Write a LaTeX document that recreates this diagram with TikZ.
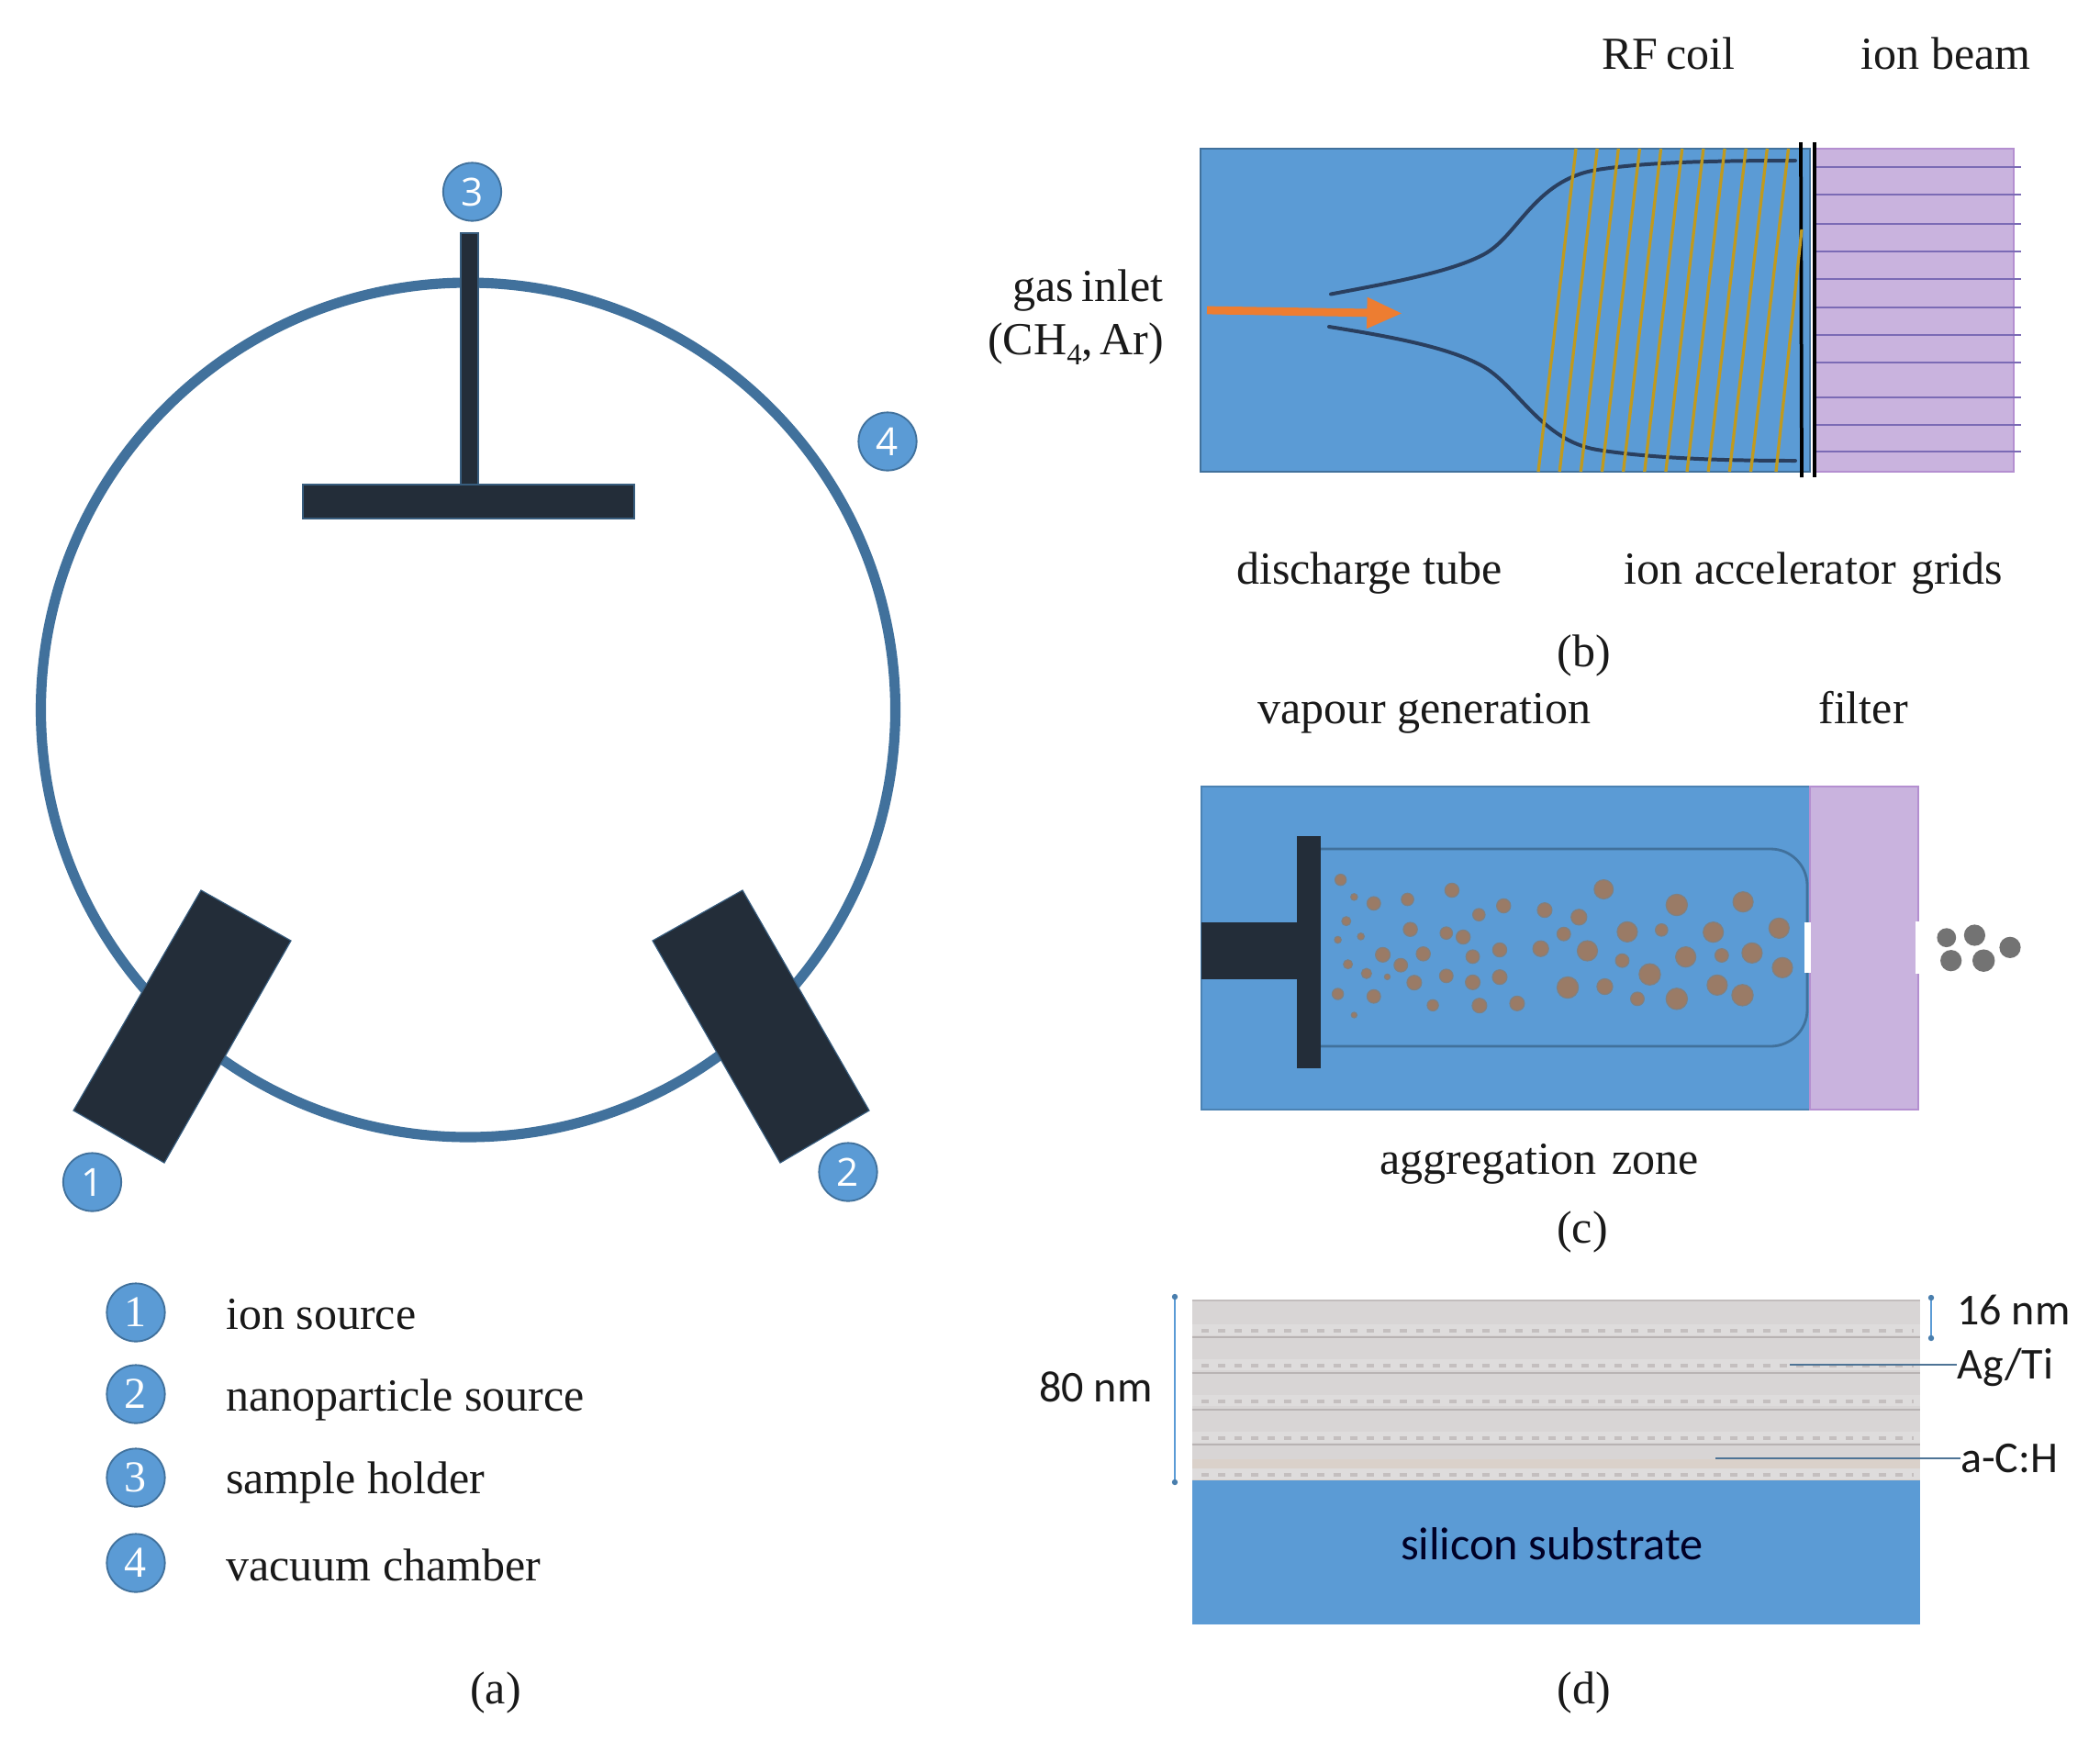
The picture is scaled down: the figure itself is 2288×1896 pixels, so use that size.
\documentclass[tikz,border=0pt]{standalone}
\usepackage{fontspec}
\setmainfont{Liberation Serif}
\newfontfamily\calibrif{Carlito}
\newfontfamily\badgef{Open Sans}
\usetikzlibrary{arrows.meta}
\definecolor{msblue}{HTML}{5B9BD5}
\definecolor{msedge}{HTML}{41719C}
\definecolor{darkbar}{HTML}{232D39}
\definecolor{lilac}{HTML}{C9B3DE}
\definecolor{lilacedge}{HTML}{B48FD0}
\definecolor{gridline}{HTML}{7B6BB5}
\definecolor{coil}{HTML}{BF9A20}
\definecolor{plasma}{HTML}{2A3F5F}
\definecolor{arrowor}{HTML}{ED7D31}
\definecolor{particle}{HTML}{9A7B66}
\definecolor{particleedge}{HTML}{808080}
\definecolor{layer}{HTML}{D8D5D5}
\definecolor{layerband}{HTML}{DEDCDC}
\definecolor{layerline}{HTML}{B8B3B3}
\definecolor{layerdot}{HTML}{C4BFBF}
\tikzset{
 serifl/.style={inner sep=0pt,anchor=base,font=\fontsize{42.7}{50}\selectfont,text=black!90},
 caliL/.style={inner sep=0pt,anchor=base west,font=\calibrif\fontsize{41}{50}\selectfont,text=black!90},
 badge/.style={circle,draw=msedge,line width=1.6pt,fill=msblue,minimum size=54pt,inner sep=0pt,text=white,font=\badgef\fontsize{36}{40}\selectfont},
 lbadge/.style={circle,draw=msedge,line width=1.6pt,fill=msblue,minimum size=54pt,inner sep=0pt,text=white,font=\fontsize{41}{46}\selectfont},
 darkshape/.style={fill=darkbar,draw=msedge!70!darkbar,line width=1pt},
 gridl/.style={gridline,line width=2.2pt},
 coilline/.style={coil,line width=2.8pt},
 plasmaline/.style={plasma,line width=3.4pt,line cap=round},
 leader/.style={msedge!80!gray,line width=1.8pt},
 dimline/.style={msblue,line width=1.2pt},
 dots/.style={layerdot,line width=4pt,dash pattern=on 6.8pt off 8.56pt},
}
\begin{document}
\begin{tikzpicture}[x=0.3mm,y=-0.3mm]
\useasboundingbox (0,0) rectangle (2288,1896);
% ---------- (a)
\draw[msedge,line width=9.5pt] (510,773.5) circle [radius=465.5];
\path[darkshape] (502,254) rectangle (521,528);
\path[darkshape] (330,528) rectangle (691,565);
\path[darkshape] (219,970) -- (317,1025) -- (179,1267) -- (80,1210) -- cycle;
\path[darkshape] (809,970) -- (947,1210) -- (850,1267) -- (711,1025) -- cycle;
\node[badge] (b3) at (514.5,209) {3};
\node[badge] (b4) at (967,481) {4};
\node[badge] (b1) at (100.5,1288) {1};
\node[badge] (b2) at (924,1277) {2};
\node[lbadge] (l1) at (148,1430) {1};
\node[lbadge] (l2) at (148,1519) {2};
\node[lbadge] (l3) at (148,1610) {3};
\node[lbadge] (l4) at (148,1703) {4};
\node[serifl,anchor=base west] (t1) at (246,1448) {ion source};
\node[serifl,anchor=base west] (t2) at (246,1537) {nanoparticle source};
\node[serifl,anchor=base west] (t3) at (246,1627) {sample holder};
\node[serifl,anchor=base west] (t4) at (246,1722) {vacuum chamber};
\node[serifl] (capa) at (540,1856) {(a)};
% ---------- (b)
\draw[fill=msblue,draw=msedge,line width=1.6pt] (1308,162) rectangle (1972,514);
\draw[fill=lilac,draw=lilacedge,line width=1.2pt] (1976,162) rectangle (2194,514);
\foreach \y in {182,212,244,274,304,335,365,395,433,463,492}
  \draw[gridl] (1976,\y) -- (2202,\y);
\draw[plasmaline] (1450,320.5) .. controls (1510,309) and (1580,297) .. (1617,277) .. controls (1654,257) and (1672,196) .. (1740,185) .. controls (1790,177) and (1860,175) .. (1956,175);
\draw[plasmaline] (1448,356) .. controls (1510,366) and (1580,378) .. (1617,400) .. controls (1654,422) and (1680,480) .. (1740,490) .. controls (1790,498) and (1860,502) .. (1956,502);
\foreach \i in {0,...,10}
  \draw[coilline] ({1717+23.15*\i},162) -- ({1676+23.15*\i},514);
\draw[black,line width=3.2pt] (1962,155) -- (1963,520);
\draw[black,line width=3.2pt] (1977,155) -- (1977,520);
\draw[coilline] (1963,250) -- (1935,514);
\coordinate (gasA) at (1315,338);
\coordinate (gasB) at (1528,341.5);
\draw[arrowor,line width=7.5pt,-{Triangle[length=33pt,width=27pt]}] (gasA) -- (gasB);
\node[serifl] (rf) at (1818,75) {RF\hspace{0.18em}coil};
\node[serifl] (ib) at (2120,75) {ion beam};
\node[serifl,anchor=base east] (gas1) at (1268,328) {gas\hspace{0.18em}inlet};
\node[serifl,anchor=base east] (gas2) at (1268,386) {(CH\raisebox{-0.22em}{\fontsize{28}{30}\selectfont 4},\hspace{0.14em}Ar)};
\node[serifl] (dt) at (1492,636) {discharge tube};
\node[serifl] (iag) at (1976,636) {ion accelerator\hspace{0.08em} grids};
\node[serifl] (capb) at (1726,726) {(b)};
% ---------- (c)
\draw[fill=msblue,draw=msedge!60!msblue,line width=1pt] (1309,857) rectangle (1972,1209);
\draw[fill=lilac,draw=lilacedge,line width=1.8pt] (1972,857) rectangle (2090,1209);
\draw[msedge,line width=2.4pt,rounded corners=34pt] (1439,925) -- (1969,925) -- (1969,1140) -- (1439,1140);
\fill[white] (1966,1005) rectangle (1973,1060);
\fill[white] (2087,1004) rectangle (2092,1061);
\fill[darkbar] (1309,1005) rectangle (1413,1067);
\fill[darkbar] (1413,911) rectangle (1439,1164);
\foreach \x/\y/\w in {295/356/20,319/412/12,354/433/24,414/420/22,493/390/25,541/470/22,585/441/25,658/455/26,719/478/28,763/387/34,893/438/38,1011/428/36,305/491/16,419/518/25,483/530/22,513/543/25,692/533/24,805/526/36,866/520/22,958/527/36,1075/514/36,290/552/12,331/541/12,370/601/26,442/598/25,530/607/24,578/585/25,651/581/28,734/588/36,796/620/24,909/608/36,973/603/24,1027/595/36,1081/643/36,308/632/16,341/662/18,402/635/24,378/673/10,426/692/26,483/670/24,530/691/26,578/674/26,699/708/38,765/705/28,845/665/38,965/700/36,290/729/20,354/737/24,459/766/20,542/767/26,609/760/26,823/745/24,893/745/38,1010/733/38,319/798/10}
  \fill[particle,draw=particleedge,line width=1pt] ({1280+\x/1.633},{840+\y/3}) circle [radius={\w/3.27}];
\foreach \x/\y/\w in {1373/545/34,1423/537/38,1486/577/38,1381/620/38,1439/620/40}
  \fill[black!55] ({1280+\x/1.633},{840+\y/3}) circle [radius={\w/3.27}];
\node[serifl] (vg) at (1552,788) {vapour generation};
\node[serifl] (fl) at (2030,788) {filter};
\node[serifl] (az) at (1677,1279) {aggregation\hspace{0.08em} zone};
\node[serifl] (capc) at (1724,1354) {(c)};
% ---------- (d)
\fill[layer] (1298.5,1416) rectangle (2092,1613);
\fill[orange!5!layer] (1298.5,1590) rectangle (2092,1613);
\draw[layerline!70!layer,line width=1.6pt] (1298.5,1417) -- (2092,1417);
\foreach \y in {1450,1488,1527,1567,1607}
  \fill[layerband] (1298.5,\y-7) rectangle (2092,\y+5);
\foreach \y in {1457,1496,1536,1574}
  \draw[layerline,line width=2.4pt] (1298.5,\y) -- (2092,\y);
\foreach \y in {1450,1488,1527,1567,1607}
  \draw[dots] (1309,\y) -- (2085,\y);
\fill[msblue] (1298.5,1613) rectangle (2092,1770);
\node[inner sep=0pt,font=\calibrif\fontsize{43}{50}\selectfont,text=black!85!blue] (si) at (1691,1682) {silicon substrate};
\node[caliL] (d80) at (1132,1527) {80 nm};
\node[caliL] (d16) at (2132,1443) {16 nm};
\node[caliL] (ag) at (2132,1502) {Ag/Ti};
\node[caliL] (ac) at (2136,1604) {a-C:H};
\coordinate (agS) at (1950,1487);
\coordinate (acS) at (1869,1589);
\draw[leader] (agS) -- (agS -| ag.west);
\draw[leader] (acS) -- (acS -| ac.west);
\coordinate (m80a) at (1280,1413);
\coordinate (m80b) at (1280,1615);
\coordinate (m16a) at (2104,1414);
\coordinate (m16b) at (2104,1458);
\draw[dimline] (m80a) -- (m80b);
\draw[dimline] (m16a) -- (m16b);
\foreach \p in {m80a,m80b,m16a,m16b}
  \fill[msedge!70!msblue] (\p) circle [radius=3.2];
\node[serifl] (capd) at (1726,1856) {(d)};
\end{tikzpicture}
\end{document}
